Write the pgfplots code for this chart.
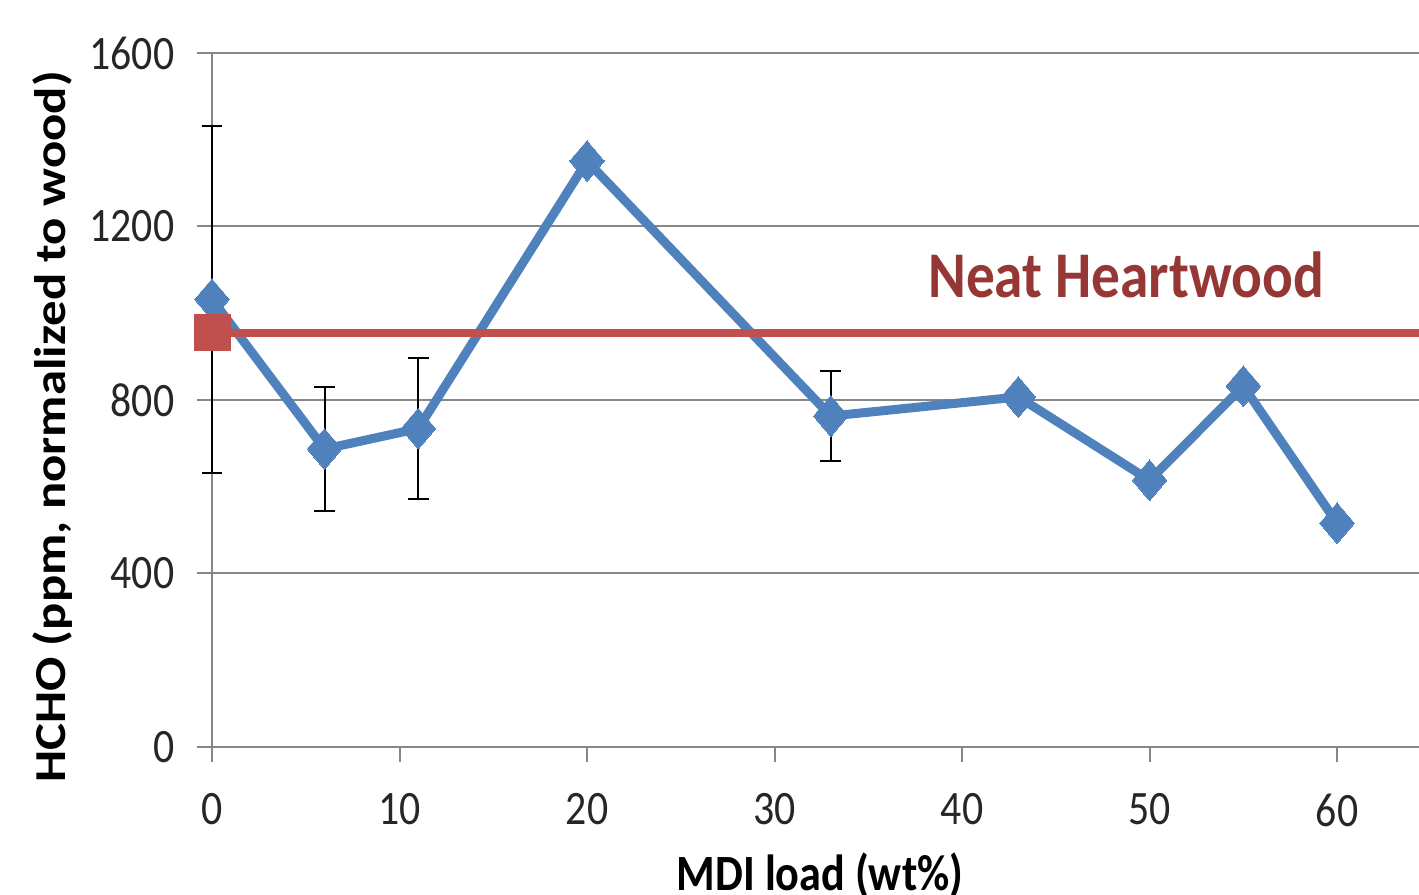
\documentclass[border=0pt]{standalone}
\usepackage{graphicx}
\usepackage{pgfplots}
\pgfplotsset{compat=1.18}
\usepackage{fontspec}
\setmainfont{Carlito}
\definecolor{blueL}{RGB}{79,129,189}
\definecolor{redL}{RGB}{192,80,77}
\definecolor{redT}{RGB}{149,55,53}
\definecolor{gridG}{RGB}{134,134,134}
\pgfplotstableread{
x y
0 1032
6 687
11 734
20 1351
33 763
43 807
50 615
55 832
60 516
}\mainData
\pgfplotstableread{
x y e
0 1032 400
6 687 144
11 734 162
33 763 103
}\errData
\begin{document}
\begin{tikzpicture}[x=1pt,y=1pt]
\useasboundingbox (-53,-37) rectangle (301.75,186.75);
\begin{axis}[
  at={(0,0)}, anchor=origin, scale only axis,
  width=301.75pt, height=173.5pt,
  xmin=0, xmax=64.37, ymin=0, ymax=1600,
  axis x line*=bottom, axis y line*=left,
  xtick={0,10,...,60}, ytick={0,400,...,1600},
  tick align=outside, major tick length=3.75pt,
  tick style={gridG, line width=0.5pt},
  axis line style={gridG, line width=0.5pt},
  ymajorgrids, grid style={gridG, line width=0.5pt},
  clip=false,
  /pgf/number format/assume math mode=true,
  /pgf/number format/1000 sep={},
  xticklabel={\scalebox{0.87}[1]{\pgfmathprintnumber{\tick}}},
  yticklabel={\scalebox{0.87}[1]{\pgfmathprintnumber{\tick}}},
  ticklabel style={font=\fontsize{12}{14}\selectfont, inner sep=0pt, text=black!85},
  xticklabel style={anchor=north, yshift=-7.75pt},
  yticklabel style={anchor=east, xshift=-5.5pt},
]
\addplot[only marks, mark=none, black, line width=0.5pt, forget plot,
  error bars/.cd, y dir=both, y explicit, error mark=-,
  error bar style={black, line width=0.5pt, solid},
  error mark options={black, mark size=2.6pt, line width=0.5pt, rotate=90}]
  table[x=x, y=y, y error=e] {\errData};
\addplot[blueL, line width=2.25pt, mark=square*,
  mark options={solid, fill=blueL, draw=blueL, line width=0pt, xscale=0.85, rotate=45}, mark size=3.6pt]
  table[x=x, y=y] {\mainData};
\addplot[redL, line width=2pt, mark=square*, mark indices={1},
  mark options={fill=redL, draw=redL, line width=0pt}, mark size=4.5pt]
  coordinates {(0,955) (64.37,955)};
\node[anchor=base, text=redT, font=\fontsize{16.3}{18}\selectfont\bfseries, inner sep=0pt]
  at (axis cs:48.75,1037) {\scalebox{0.88}[1]{Neat Heartwood}};
\end{axis}
\node[anchor=base, rotate=90, font=\fontsize{12.7}{14}\selectfont\bfseries, inner sep=0pt]
  at (16.4-53,117-37) {\scalebox{1}[0.87]{HCHO (ppm, normalized to wood)}};
\node[anchor=base, font=\fontsize{12.7}{14}\selectfont\bfseries, inner sep=0pt]
  at (205-53,1-37) {\scalebox{0.87}[1]{MDI load (wt\%)}};
\end{tikzpicture}
\end{document}
